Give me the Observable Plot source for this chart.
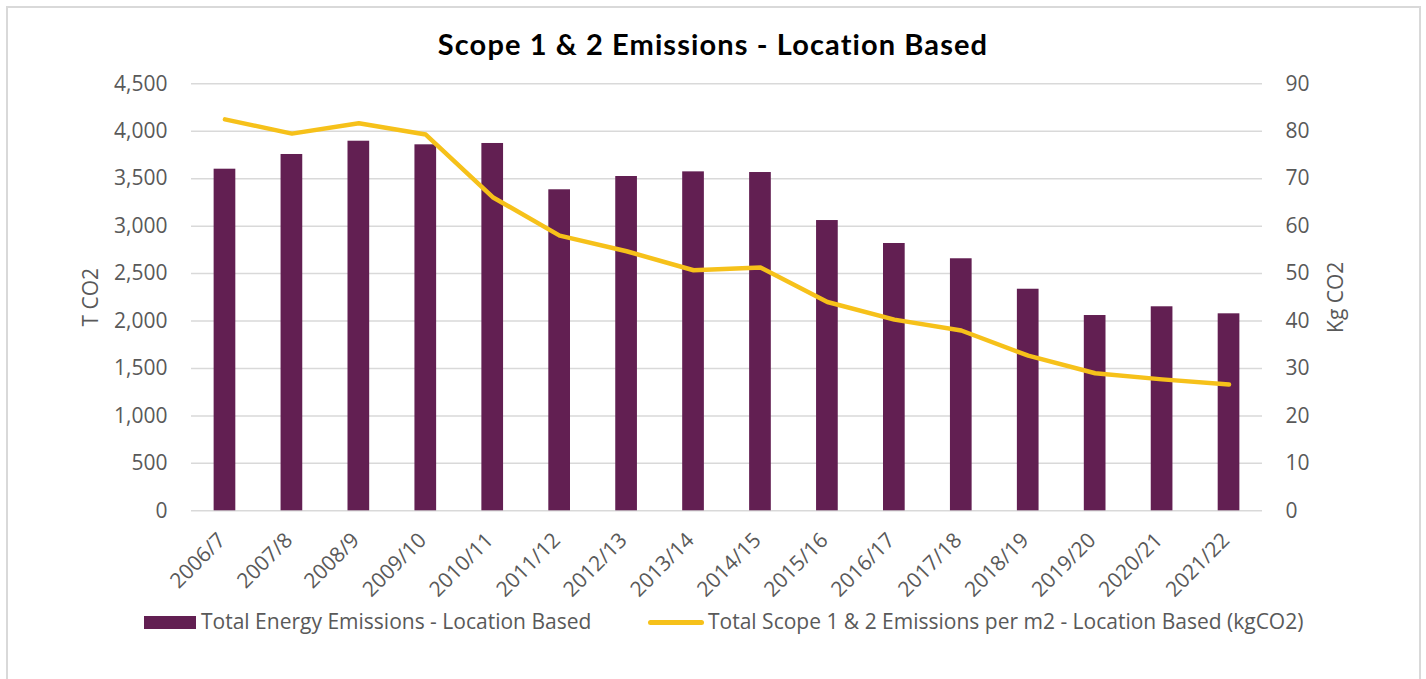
<!DOCTYPE html>
<html>
<head>
<meta charset="utf-8">
<script src="https://cdn.jsdelivr.net/npm/d3@7"></script>
<script src="https://cdn.jsdelivr.net/npm/@observablehq/plot@0.6"></script>
<style>
  html, body { margin: 0; padding: 0; background: #fff; width: 1426px; height: 679px; overflow: hidden; }
  #frame { position: absolute; left: 6px; top: 6px; width: 1415px; height: 700px; border: 2px solid #d9d9d9; box-sizing: border-box; }
  #title { position: absolute; left: 0; width: 1426px; top: 27px; text-align: center; font-family: Lato, sans-serif; font-weight: 700; font-size: 29px; letter-spacing: 1.1px; line-height: 34px; color: #000; }
  #chart { position: absolute; left: 0; top: 65px; }
  .leg { position: absolute; font-family: "Open Sans", sans-serif; font-size: 21px; color: #595959; line-height: 26px; white-space: nowrap; }
  .sw { position: absolute; }
</style>
</head>
<body>
<div id="frame"></div>
<div id="title">Scope 1 &amp; 2 Emissions - Location Based</div>
<div id="chart"></div>
<div class="sw" style="left:144px;top:616px;width:52px;height:13px;background:#621F52"></div>
<div class="leg" style="left:201px;top:608px;">Total Energy Emissions - Location Based</div>
<div class="sw" style="left:648px;top:620px;width:56px;height:5px;border-radius:3px;background:#F6C11A"></div>
<div class="leg" style="left:708px;top:608px;">Total Scope 1 &amp; 2 Emissions per m2 - Location Based (kgCO2)</div>
<script>
const years = ["2006/7","2007/8","2008/9","2009/10","2010/11","2011/12","2012/13","2013/14","2014/15","2015/16","2016/17","2017/18","2018/19","2019/20","2020/21","2021/22"];
const totalEmissions = [3600,3755,3895,3857,3871,3383,3523,3572,3565,3059,2817,2656,2335,2058,2150,2076];
const perM2 = [82.5,79.5,81.7,79.3,66.1,58.0,54.7,50.7,51.3,44.0,40.3,38.0,32.7,29.0,27.7,26.6];
const leftTicks = [0,500,1000,1500,2000,2500,3000,3500,4000,4500];
const rightTicks = [0,10,20,30,40,50,60,70,80,90];

const ratio = 4500 / 90; // right axis 0–90 maps onto left axis 0–4500
const rows = years.map((y, i) => ({year: y, total: totalEmissions[i], kg: perM2[i]}));

const chart = Plot.plot({
  width: 1426,
  height: 540,
  marginLeft: 191,
  marginRight: 164,
  marginTop: 18.3,
  marginBottom: 94.7,
  style: {fontFamily: "'Open Sans', sans-serif", fontSize: "21px", color: "#595959", background: "transparent"},
  x: {type: "band", domain: years, paddingInner: 0.676, paddingOuter: 0.338, align: 0.5, round: false},
  y: {domain: [0, 4500]},
  marks: [
    Plot.gridY(leftTicks, {stroke: "#d9d9d9", strokeOpacity: 1, strokeWidth: 1.5}),
    Plot.barY(rows, {x: "year", y: "total", fill: "#621F52"}),
    Plot.line(rows, {x: "year", y: d => d.kg * ratio, stroke: "#F6C11A", strokeWidth: 4.5, strokeLinecap: "round", strokeLinejoin: "round"}),
    Plot.axisY(leftTicks, {tickSize: 0, tickPadding: 24, tickFormat: d3.format(","), label: "T CO2", labelAnchor: "center", labelArrow: "none", labelOffset: 108}),
    Plot.axisY(rightTicks.map(d => d * ratio), {anchor: "right", tickSize: 0, tickPadding: 23, tickFormat: d => String(d / ratio), label: "Kg CO2", labelAnchor: "center", labelArrow: "none", labelOffset: 80}),
    Plot.axisX({tickRotate: -45, tickSize: 0, tickPadding: 26, dx: -3, label: null})
  ]
});
document.getElementById("chart").appendChild(chart);
</script>
</body>
</html>
